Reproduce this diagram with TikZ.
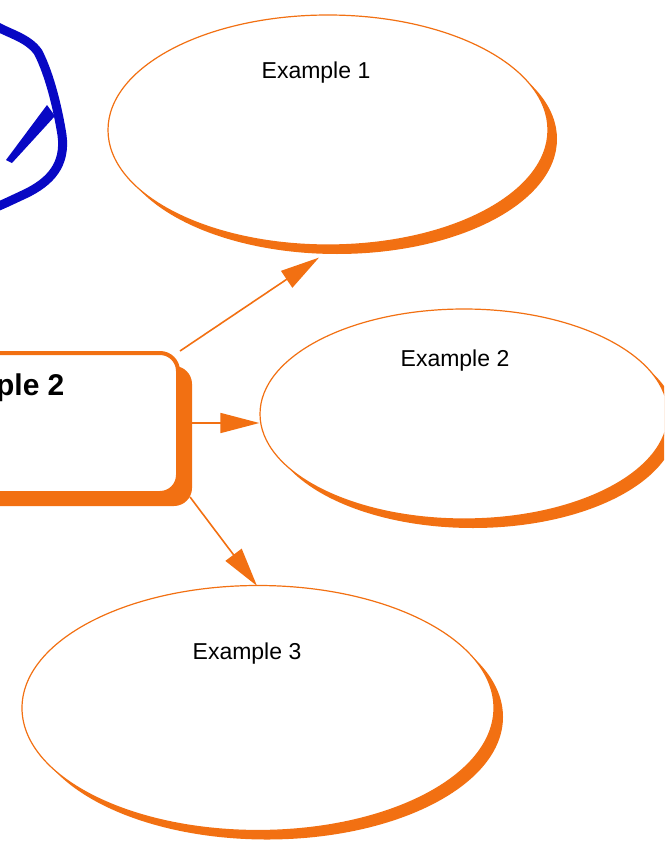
\documentclass[tikz,border=0pt]{standalone}
\usepackage{fontspec}
\setmainfont{Liberation Sans}
\usetikzlibrary{shapes.geometric,shadows,arrows.meta}
\definecolor{mindorange}{RGB}{242,112,18}
\definecolor{penblue}{RGB}{8,8,196}

\begin{document}
\begin{tikzpicture}[x=1pt, y=-1pt,
	bubble/.style={ellipse, draw=mindorange, line width=1.2pt, fill=white, inner sep=0pt,
		drop shadow={shadow xshift=9pt, shadow yshift=-9pt, fill=mindorange, opacity=1}},
	topic/.style={rectangle, rounded corners=18pt, draw=mindorange, line width=4pt, fill=white, inner sep=0pt,
		drop shadow={shadow xshift=14pt, shadow yshift=-13pt, fill=mindorange, opacity=1}},
	link/.style={draw=mindorange, line width=1.6pt, -{Triangle[length=39pt,width=20pt]}},
	caption/.style={anchor=base, font=\fontsize{23}{26}\selectfont}]
	\useasboundingbox (0,0) rectangle (664,843);
	\clip (0,0) rectangle (664,843);
	% pen scribble
	\draw[penblue, line width=9pt, line cap=round, line join=round]
		(-4,26) .. controls (10,34) and (28,38) .. (38,52)
		.. controls (50,75) and (58,110) .. (62,135)
		.. controls (66,165) and (50,182) .. (25,194)
		.. controls (12,200) and (4,204) .. (-6,208);
	\fill[penblue] (47,105) -- (55,116) -- (12,163) -- (6,160) -- cycle;
	% bubbles
	\node (b) [topic, minimum width=370pt, minimum height=140pt] at (-7,423) {};
	\node (e1) [bubble, minimum width=440pt, minimum height=230pt] at (328,130) {};
	\node (e2) [bubble, minimum width=408pt, minimum height=210pt] at (464,414) {};
	\node (e3) [bubble, minimum width=472pt, minimum height=245pt] at (258,708) {};
	\node (tb) [anchor=base east, font=\bfseries\fontsize{30}{34}\selectfont] at (68,395) {Example 2};
	\node (t1) [caption] at (316,78) {Example 1};
	\node (t2) [caption] at (455,366) {Example 2};
	\node (t3) [caption] at (247,659) {Example 3};
	% links
	\draw[link] (b.north east) -- ([shift={(-9,12)}]e1.south);
	\draw[link] (b.east) -- (b.east -| e2.west);
	\draw[link] ([shift={(10,2)}]b.south east) -- ([shift={(-1,1)}]e3.north);
\end{tikzpicture}
\end{document}
